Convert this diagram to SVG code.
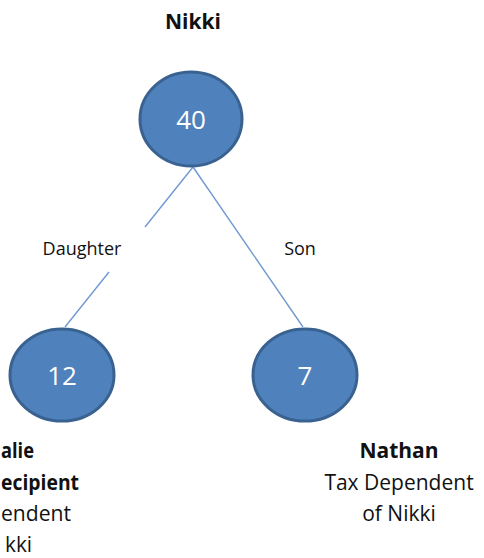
<svg xmlns="http://www.w3.org/2000/svg" width="484" height="558" viewBox="0 0 484 558">
<style>
.node{fill:#4F81BD;stroke:#3A6290;stroke-width:3}
.num{font-family:"Open Sans","Liberation Sans",sans-serif;font-size:26px;fill:#ffffff;text-anchor:middle}
.lbl{font-family:"Open Sans","Liberation Sans",sans-serif;font-size:21px;fill:#111111}
.b{font-weight:bold}
.edge{stroke:#6F9AD0;stroke-width:1.4;fill:none}
.elbl{font-family:"Open Sans","Liberation Sans",sans-serif;font-size:18px;fill:#111111;text-anchor:middle}
</style>
<rect width="484" height="558" fill="#ffffff"/>
<g id="connectors">
<line class="edge" x1="193" y1="167" x2="145" y2="227"/>
<line class="edge" x1="109" y1="272" x2="65" y2="327"/>
<line class="edge" x1="193" y1="167" x2="303" y2="327"/>
<text class="elbl" x="82" y="255">Daughter</text>
<text class="elbl" x="300" y="255">Son</text>
</g>
<g id="nikki">
<text class="lbl b" x="193" y="29" text-anchor="middle">Nikki</text>
<ellipse class="node" cx="191" cy="119" rx="51" ry="47"/>
<text class="num" x="191" y="129">40</text>
</g>
<g id="daughter">
<ellipse class="node" cx="62" cy="375" rx="52" ry="46"/>
<text class="num" x="62" y="385">12</text>
<text class="lbl b" x="1" y="458" textLength="33" lengthAdjust="spacingAndGlyphs">alie</text>
<text class="lbl b" x="1" y="490" textLength="78" lengthAdjust="spacingAndGlyphs">ecipient</text>
<text class="lbl" x="1" y="521" textLength="70" lengthAdjust="spacingAndGlyphs">endent</text>
<text class="lbl" x="5" y="552" textLength="27" lengthAdjust="spacingAndGlyphs">kki</text>
</g>
<g id="son">
<ellipse class="node" cx="305" cy="375" rx="52" ry="46"/>
<text class="num" x="305" y="385">7</text>
<text class="lbl b" x="399" y="458" text-anchor="middle">Nathan</text>
<text class="lbl" x="399" y="490" text-anchor="middle">Tax Dependent</text>
<text class="lbl" x="399" y="521" text-anchor="middle">of Nikki</text>
</g>
</svg>
